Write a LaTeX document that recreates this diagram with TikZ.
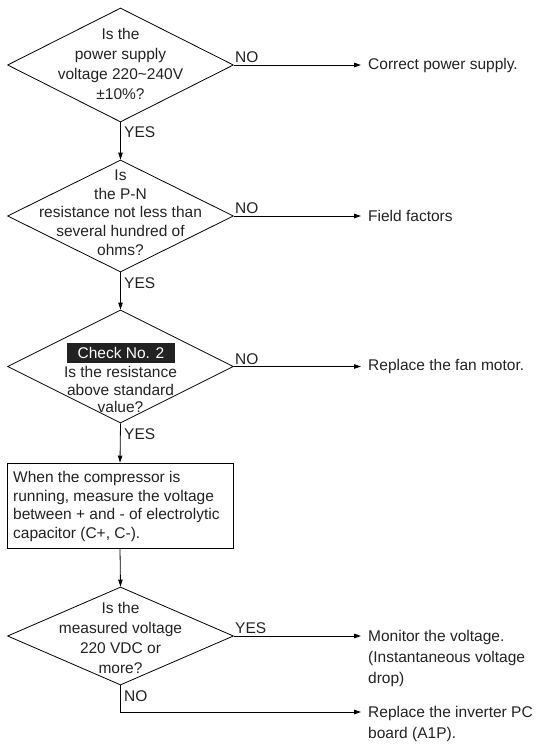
\documentclass[tikz,border=0pt]{standalone}
\usepackage{fontspec}
\setmainfont{Liberation Sans}
\usetikzlibrary{arrows.meta,shapes.geometric}
\definecolor{ink}{HTML}{222222}
\begin{document}
\begin{tikzpicture}[x=1pt,y=-1pt,
  flow/.style={draw=black, line width=0.8pt},
  arr/.style={flow, -{Triangle[length=7pt,width=4.5pt]}},
  decision/.style={flow, shape=diamond, inner sep=0pt, minimum width=226pt},
  txt/.style={text=ink, inner sep=0pt, align=center, font=\fontsize{15.5}{19.5}\selectfont},
  lbl/.style={text=ink, inner sep=0pt, font=\fontsize{15.5}{18}\selectfont},
  result/.style={text=ink, inner sep=0pt, align=left, anchor=north west, font=\fontsize{15.5}{21}\selectfont},
  tag/.style={fill=ink, text=white, inner sep=0pt, minimum width=108pt, minimum height=20pt, font=\fontsize{15.5}{18}\selectfont},
  stepbox/.style={flow, inner sep=0pt, minimum width=226pt, minimum height=85pt},
]
\useasboundingbox (0,0) rectangle (539,749);

% decisions and process step
\node[decision, minimum height=114pt] (d1) at (120.5,65) {};
\node[decision, minimum height=112pt] (d2) at (120.5,216) {};
\node[decision, minimum height=113pt] (d3) at (120.5,366.5) {};
\node[stepbox] (p1) at (120,505.5) {};
\node[decision, minimum height=98pt] (d4) at (120.5,636) {};

% texts inside the shapes
\node[txt, font=\fontsize{15.5}{20}\selectfont] (t1) at (120.5,63.5)
  {Is the\\power supply\\voltage 220\textasciitilde240V\\±10\%?};
\node[txt, font=\fontsize{15.5}{18.7}\selectfont] (t2) at (120.5,212.5)
  {Is\\the P-N\\resistance not less than\\several hundred of\\ohms?};
\node[tag] (c2) at (121,353) {Check No. 2};
\node[txt, font=\fontsize{15.5}{17.2}\selectfont] (t3) at (120.5,389.5)
  {Is the resistance\\above standard\\value?};
\node[txt, align=left, anchor=north west, font=\fontsize{15.5}{18.7}\selectfont] (tp) at (13,471)
  {When the compressor is\\running, measure the voltage\\between + and - of electrolytic\\capacitor (C+, C-).};
\node[txt, font=\fontsize{15.5}{19.7}\selectfont] (t4) at (120.5,638)
  {Is the\\measured voltage\\220 VDC or\\more?};

% main flow
\draw[arr] (d1.south) -- (d2.north);
\draw[arr] (d2.south) -- (d3.north);
\draw[arr] (d3.south) -- (p1.north);
\draw[arr] (p1.south) -- (d4.north);

\node[lbl, anchor=base west] (y1) at (124,138) {YES};
\node[lbl, anchor=base west] (y2) at (124,288) {YES};
\node[lbl, anchor=base west] (y3) at (124,439) {YES};

% branches to the right
\coordinate (e1) at (361,65);
\coordinate (e2) at (361,216);
\coordinate (e3) at (361,366.5);
\coordinate (e4) at (361,636);
\coordinate (k4) at (120.5,712);
\coordinate (e5) at (361,712);

\draw[arr] (d1.east) -- (e1);
\draw[arr] (d2.east) -- (e2);
\draw[arr] (d3.east) -- (e3);
\draw[arr] (d4.east) -- (e4);
\draw[arr] (d4.south) -- (k4) -- (e5);

\node[lbl, anchor=base west] (n1) at (235,62.5) {NO};
\node[lbl, anchor=base west] (n2) at (235,213.5) {NO};
\node[lbl, anchor=base west] (n3) at (235,364) {NO};
\node[lbl, anchor=base west] (y4) at (235,633) {YES};
\node[lbl, anchor=base west] (n4) at (124,701) {NO};

\node[lbl, anchor=west] (r1) at (368,65) {Correct power supply.};
\node[lbl, anchor=west] (r2) at (368,216) {Field factors};
\node[lbl, anchor=west] (r3) at (368,366.5) {Replace the fan motor.};
\node[result] (r4) at (368,630) {Monitor the voltage.\\(Instantaneous voltage\\drop)};
\node[result] (r5) at (368,706) {Replace the inverter PC\\board (A1P).};
\end{tikzpicture}
\end{document}
